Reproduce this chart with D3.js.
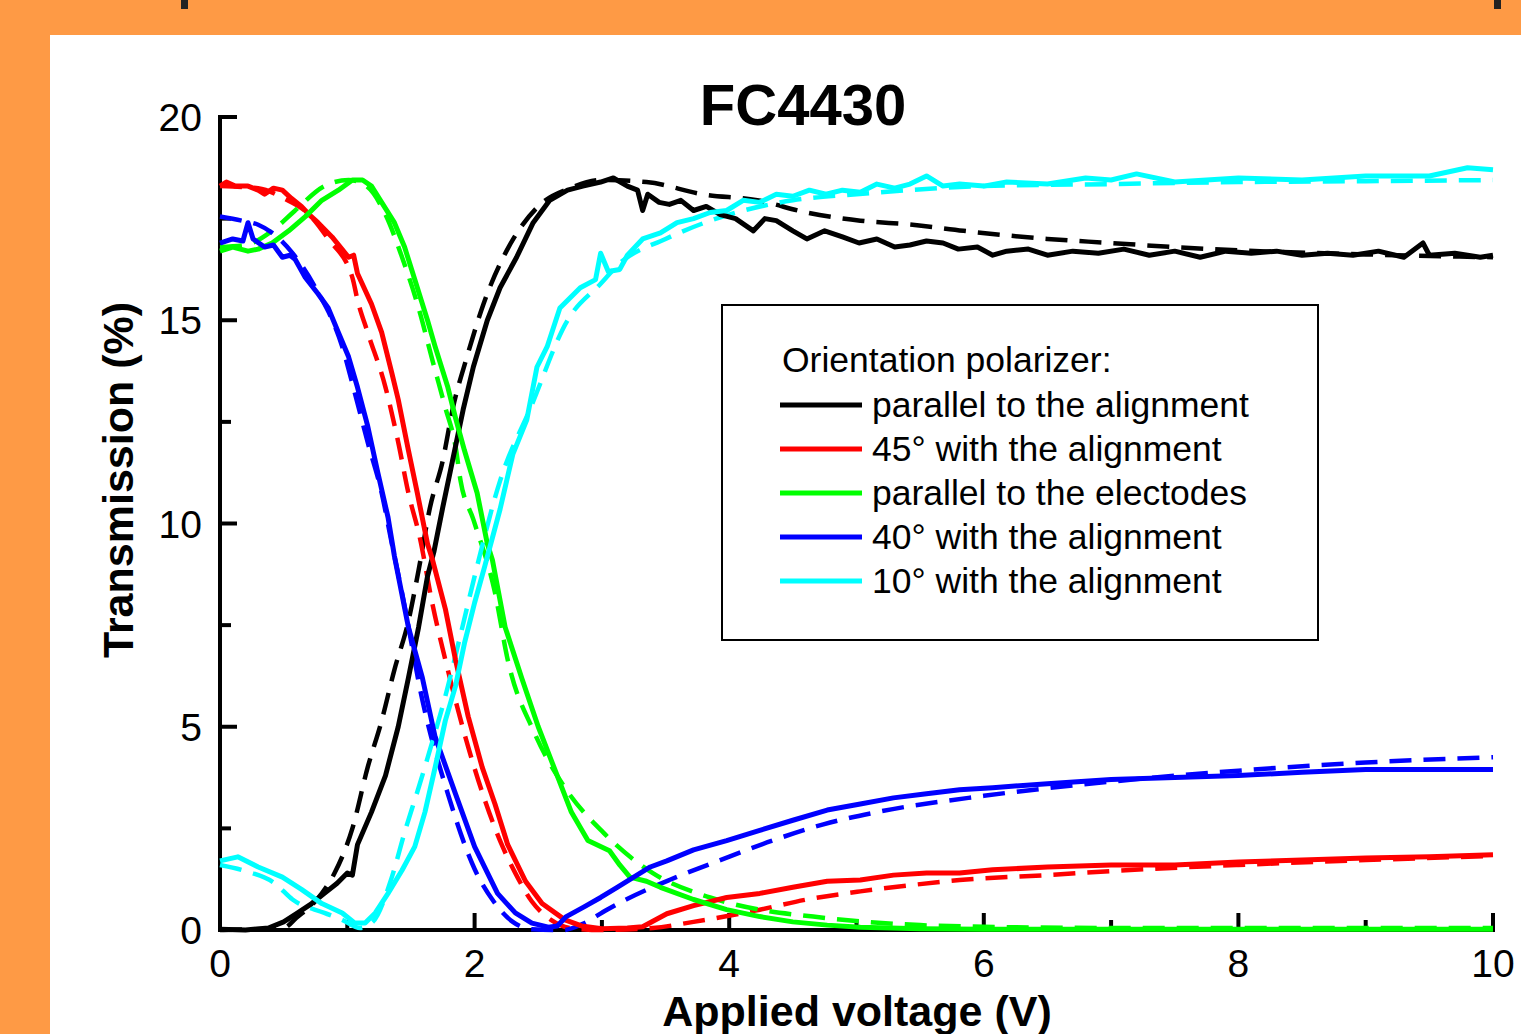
<!DOCTYPE html>
<html lang="en">
<head>
  <meta charset="UTF-8">
  <title>FC4430 transmission</title>
  <script src="https://d3js.org/d3.v7.min.js"></script>
  <style>
    body {
      margin: 0;
      background: #fe9a45;
      font-family: "Liberation Sans", Arial, sans-serif;
    }
    svg { display: block; }
    .axis-line { stroke: #000; stroke-width: 4; fill: none; stroke-linecap: square; }
    .tick-label { font-size: 39px; fill: #000; }
    .axis-title { font-size: 43px; font-weight: bold; fill: #000; }
  </style>
</head>
<body>
  <div id="chart"></div>

  <script>
    // measured curves, [voltage (V), transmission (%)]
    const blackMeas = [[0,0.02],[0.2,0],[0.38,0.05],[0.5,0.2],[0.61,0.42],[0.72,0.65],[0.82,0.9],[0.92,1.15],[1.0,1.4],[1.04,1.35],[1.08,2.1],[1.19,2.9],[1.3,3.8],[1.4,5.0],[1.48,6.2],[1.56,7.45],[1.63,8.7],[1.68,9.3],[1.75,10.4],[1.81,11.3],[1.91,12.8],[1.99,13.85],[2.1,15.0],[2.2,15.8],[2.33,16.55],[2.46,17.4],[2.59,17.95],[2.73,18.2],[2.85,18.3],[2.99,18.4],[3.09,18.5],[3.2,18.3],[3.28,18.2],[3.32,17.7],[3.36,18.1],[3.45,17.9],[3.53,17.85],[3.62,17.95],[3.72,17.7],[3.82,17.8],[3.93,17.6],[4.05,17.5],[4.19,17.2],[4.28,17.5],[4.37,17.45],[4.5,17.2],[4.61,17.0],[4.75,17.2],[4.89,17.05],[5.02,16.9],[5.16,17.0],[5.3,16.8],[5.42,16.85],[5.55,16.95],[5.68,16.9],[5.8,16.75],[5.95,16.8],[6.07,16.6],[6.18,16.7],[6.35,16.75],[6.5,16.6],[6.7,16.7],[6.9,16.65],[7.1,16.75],[7.3,16.6],[7.5,16.7],[7.7,16.55],[7.9,16.7],[8.1,16.65],[8.3,16.7],[8.5,16.6],[8.7,16.65],[8.9,16.6],[9.1,16.7],[9.3,16.55],[9.45,16.9],[9.5,16.6],[9.7,16.65],[9.9,16.55],[10,16.6]];
    const redMeas = [[0,18.3],[0.05,18.4],[0.12,18.3],[0.22,18.3],[0.3,18.2],[0.35,18.1],[0.42,18.25],[0.49,18.2],[0.56,18.0],[0.64,17.8],[0.7,17.6],[0.77,17.4],[0.88,17.05],[1.01,16.55],[1.05,16.6],[1.08,16.15],[1.19,15.4],[1.27,14.7],[1.35,13.7],[1.4,13.05],[1.48,11.8],[1.55,10.75],[1.63,9.5],[1.67,9.1],[1.77,7.9],[1.85,6.65],[1.95,5.25],[2.06,4.0],[2.16,3.1],[2.26,2.1],[2.4,1.2],[2.53,0.65],[2.71,0.25],[2.84,0.1],[3.0,0.03],[3.2,0.05],[3.32,0.08],[3.51,0.4],[3.72,0.6],[3.98,0.8],[4.24,0.9],[4.5,1.05],[4.77,1.2],[5.03,1.23],[5.29,1.35],[5.55,1.4],[5.81,1.4],[6.07,1.48],[6.5,1.55],[7,1.6],[7.5,1.6],[8,1.67],[8.5,1.72],[9,1.77],[9.5,1.8],[10,1.85]];
    const greenMeas = [[0,16.7],[0.1,16.8],[0.22,16.7],[0.3,16.75],[0.41,16.9],[0.54,17.2],[0.67,17.55],[0.8,17.95],[0.93,18.2],[1.04,18.45],[1.12,18.45],[1.19,18.3],[1.27,17.9],[1.37,17.4],[1.45,16.8],[1.53,16.0],[1.63,15.0],[1.69,14.35],[1.79,13.35],[1.85,12.6],[1.92,11.8],[2.02,10.75],[2.1,9.5],[2.14,9.1],[2.24,7.45],[2.37,6.2],[2.5,5.0],[2.63,3.95],[2.76,2.9],[2.89,2.2],[3.06,1.95],[3.14,1.6],[3.22,1.3],[3.35,1.2],[3.46,1.05],[3.72,0.75],[3.98,0.5],[4.24,0.33],[4.5,0.2],[4.77,0.12],[5.03,0.07],[5.5,0.03],[6,0.02],[7,0.02],[8,0.02],[10,0.02]];
    const blueMeas = [[0,16.9],[0.1,17.0],[0.18,16.95],[0.22,17.4],[0.26,17.0],[0.35,16.8],[0.42,16.85],[0.49,16.55],[0.55,16.6],[0.59,16.5],[0.67,16.05],[0.77,15.65],[0.85,15.3],[0.93,14.7],[1.01,14.1],[1.08,13.35],[1.16,12.4],[1.24,11.25],[1.32,10.15],[1.37,9.2],[1.48,7.45],[1.59,6.2],[1.69,4.75],[1.85,3.35],[2.0,2.05],[2.18,0.9],[2.32,0.42],[2.45,0.17],[2.58,0.07],[2.65,0.1],[2.72,0.33],[2.86,0.57],[2.99,0.8],[3.12,1.05],[3.25,1.3],[3.38,1.55],[3.51,1.7],[3.72,1.97],[3.98,2.2],[4.24,2.45],[4.5,2.7],[4.77,2.95],[5.03,3.1],[5.29,3.25],[5.55,3.35],[5.81,3.45],[6.07,3.5],[6.5,3.6],[7,3.7],[7.5,3.75],[8,3.8],[8.5,3.88],[9,3.95],[9.5,3.95],[10,3.95]];
    const cyanMeas = [[0,1.7],[0.14,1.8],[0.3,1.55],[0.49,1.3],[0.64,1.0],[0.8,0.65],[0.96,0.42],[1.06,0.17],[1.14,0.17],[1.22,0.42],[1.32,0.9],[1.43,1.47],[1.53,2.05],[1.61,2.9],[1.69,4.0],[1.77,5.15],[1.85,6.0],[1.92,7.05],[2.0,8.05],[2.08,8.95],[2.2,10.35],[2.3,11.7],[2.41,12.55],[2.49,13.85],[2.57,14.35],[2.67,15.3],[2.83,15.8],[2.95,16.0],[2.99,16.65],[3.05,16.2],[3.14,16.25],[3.2,16.6],[3.32,17.0],[3.46,17.15],[3.59,17.4],[3.72,17.5],[3.85,17.65],[3.98,17.7],[4.11,17.95],[4.24,17.9],[4.37,18.1],[4.5,18.05],[4.63,18.2],[4.76,18.1],[4.89,18.2],[5.03,18.15],[5.16,18.35],[5.3,18.25],[5.42,18.35],[5.55,18.55],[5.68,18.3],[5.81,18.35],[6.0,18.3],[6.18,18.4],[6.5,18.35],[6.8,18.5],[7.0,18.45],[7.2,18.6],[7.5,18.4],[8.0,18.5],[8.5,18.45],[9.0,18.55],[9.5,18.55],[9.8,18.75],[10,18.7]];

    // fitted curves (dashed)
    const blackFit = [[0,0],[0.5,0.05],[0.6,0.3],[0.8,0.9],[0.9,1.4],[1.04,2.5],[1.16,4.0],[1.27,5.15],[1.37,6.4],[1.48,7.6],[1.56,8.85],[1.65,10.4],[1.75,11.55],[1.83,12.85],[1.94,14.1],[2.07,15.4],[2.25,16.7],[2.5,17.8],[2.75,18.25],[3.0,18.45],[3.35,18.4],[3.79,18.1],[4.22,17.95],[4.61,17.65],[5.03,17.45],[5.44,17.35],[5.84,17.2],[6.5,17.0],[7,16.9],[7.5,16.8],[8,16.72],[9,16.62],[10,16.55]];
    const redFit = [[0,18.3],[0.3,18.25],[0.5,18.0],[0.7,17.6],[0.85,17.0],[1.04,16.05],[1.08,15.5],[1.16,14.7],[1.3,13.35],[1.4,12.0],[1.48,10.75],[1.57,9.65],[1.67,8.0],[1.77,6.65],[1.95,4.5],[2.08,3.2],[2.22,2.05],[2.32,1.4],[2.45,0.7],[2.6,0.25],[2.75,0.05],[3.0,0],[3.4,0.05],[3.72,0.2],[4.24,0.5],[4.61,0.75],[5.03,0.95],[5.42,1.1],[5.81,1.23],[6.5,1.35],[7,1.45],[8,1.6],[9,1.72],[10,1.82]];
    const greenFit = [[0,16.8],[0.2,16.85],[0.41,17.2],[0.59,17.7],[0.82,18.3],[1.01,18.45],[1.15,18.3],[1.3,17.6],[1.43,16.55],[1.56,15.3],[1.67,14.0],[1.77,12.85],[1.85,11.9],[1.89,11.05],[1.99,10.1],[2.16,8.3],[2.26,6.65],[2.47,4.85],[2.71,3.5],[3.01,2.4],[3.4,1.4],[3.85,0.8],[4.24,0.5],[4.66,0.33],[5.08,0.2],[5.5,0.12],[6,0.08],[7,0.05],[8,0.05],[10,0.05]];
    const blueFit = [[0,17.55],[0.17,17.45],[0.3,17.35],[0.41,17.15],[0.57,16.65],[0.75,15.8],[0.96,14.35],[1.06,13.2],[1.16,12.0],[1.27,10.75],[1.35,9.5],[1.43,8.3],[1.59,5.65],[1.79,3.35],[2.0,1.5],[2.15,0.7],[2.3,0.2],[2.45,0.02],[2.7,0],[2.85,0.15],[3.04,0.5],[3.19,0.75],[3.53,1.23],[3.93,1.72],[4.34,2.2],[4.74,2.6],[5.16,2.9],[6,3.3],[7,3.65],[8,3.92],[9,4.12],[10,4.25]];
    const cyanFit = [[0,1.6],[0.2,1.45],[0.43,1.15],[0.57,0.75],[0.82,0.42],[0.96,0.25],[1.1,0.05],[1.2,0.2],[1.35,1.3],[1.45,2.4],[1.56,3.5],[1.67,4.65],[1.77,5.75],[1.9,7.4],[2.0,8.7],[2.2,11.05],[2.44,12.85],[2.73,15.0],[2.99,15.9],[3.14,16.4],[3.5,17.0],[4.0,17.6],[4.5,17.95],[5.0,18.1],[6.0,18.3],[7,18.35],[8,18.4],[9,18.42],[10,18.45]];

    const seriesNames = [
      "parallel to the alignment",
      "45° with the alignment",
      "parallel to the electodes",
      "40° with the alignment",
      "10° with the alignment"
    ];
    const seriesColors = ["#000000", "#ff0000", "#00ff00", "#0000ff", "#00ffff"];
    const measured = [blackMeas, redMeas, greenMeas, blueMeas, cyanMeas];
    const fitted = [blackFit, redFit, greenFit, blueFit, cyanFit];

    const xTicks = [0, 2, 4, 6, 8, 10];
    const xMinor = [1, 3, 5, 7, 9];
    const yTicks = [0, 5, 10, 15, 20];
    const yMinor = [2.5, 7.5, 12.5, 17.5];

    const W = 1521, H = 1034;

    const svg = d3.select("#chart")
      .append("svg")
      .attr("width", W)
      .attr("height", H);

    // orange frame + white panel
    svg.append("rect").attr("width", W).attr("height", H).attr("fill", "#fe9a45");
    svg.append("rect").attr("x", 50).attr("y", 35).attr("width", W - 50).attr("height", H - 35).attr("fill", "#fff");
    // bits of the cut-off heading above
    svg.append("rect").attr("x", 181).attr("y", 0).attr("width", 7).attr("height", 9).attr("fill", "#222");
    svg.append("rect").attr("x", 1494).attr("y", 0).attr("width", 7).attr("height", 9).attr("fill", "#222");

    // scales
    const x = d3.scaleLinear().domain([0, 10]).range([220, 1493]);
    const y = d3.scaleLinear().domain([0, 20]).range([930, 117]);

    // axes (ticks pointing inward)
    const xAxis = svg.append("g");
    xAxis.append("line").attr("class", "axis-line")
      .attr("x1", x(0)).attr("x2", x(10)).attr("y1", y(0)).attr("y2", y(0));
    xAxis.selectAll(".xmaj").data(xTicks.filter(d => d > 0)).enter().append("line")
      .attr("class", "axis-line")
      .attr("x1", d => x(d)).attr("x2", d => x(d))
      .attr("y1", y(0)).attr("y2", y(0) - 15);
    xAxis.selectAll(".xmin").data(xMinor).enter().append("line")
      .attr("class", "axis-line")
      .attr("x1", d => x(d)).attr("x2", d => x(d))
      .attr("y1", y(0)).attr("y2", y(0) - 8);
    xAxis.selectAll("text").data(xTicks).enter().append("text")
      .attr("class", "tick-label")
      .attr("x", d => x(d)).attr("y", 977)
      .attr("text-anchor", "middle")
      .text(d => d);

    const yAxis = svg.append("g");
    yAxis.append("line").attr("class", "axis-line")
      .attr("x1", x(0)).attr("x2", x(0)).attr("y1", y(0)).attr("y2", y(20));
    yAxis.selectAll(".ymaj").data(yTicks.filter(d => d > 0)).enter().append("line")
      .attr("class", "axis-line")
      .attr("x1", x(0)).attr("x2", x(0) + 15)
      .attr("y1", d => y(d)).attr("y2", d => y(d));
    yAxis.selectAll(".ymin").data(yMinor).enter().append("line")
      .attr("class", "axis-line")
      .attr("x1", x(0)).attr("x2", x(0) + 9)
      .attr("y1", d => y(d)).attr("y2", d => y(d));
    yAxis.selectAll("text").data(yTicks).enter().append("text")
      .attr("class", "tick-label")
      .attr("x", 202).attr("y", d => y(d) + 14)
      .attr("text-anchor", "end")
      .text(d => d);

    // titles
    svg.append("text")
      .attr("x", 803).attr("y", 125)
      .attr("text-anchor", "middle")
      .style("font-size", "58px").style("font-weight", "bold")
      .text("FC4430");
    svg.append("text").attr("class", "axis-title")
      .attr("x", 857).attr("y", 1026)
      .attr("text-anchor", "middle")
      .text("Applied voltage (V)");
    svg.append("text").attr("class", "axis-title")
      .attr("transform", "translate(133,480) rotate(-90)")
      .attr("text-anchor", "middle")
      .text("Transmission (%)");

    // curves
    const solidLine = d3.line().x(d => x(d[0])).y(d => y(d[1]));
    const fitLine = d3.line().x(d => x(d[0])).y(d => y(d[1])).curve(d3.curveMonotoneX);

    svg.append("g").selectAll("path").data(fitted).enter().append("path")
      .attr("d", fitLine)
      .attr("fill", "none")
      .attr("stroke", (d, i) => seriesColors[i])
      .attr("stroke-width", 4.5)
      .attr("stroke-dasharray", "22,12");

    svg.append("g").selectAll("path").data(measured).enter().append("path")
      .attr("d", solidLine)
      .attr("fill", "none")
      .attr("stroke", (d, i) => seriesColors[i])
      .attr("stroke-width", 5)
      .attr("stroke-linejoin", "round");

    // legend
    const legend = svg.append("g");
    legend.append("rect")
      .attr("x", 722).attr("y", 305).attr("width", 596).attr("height", 335)
      .attr("fill", "#fff").attr("stroke", "#000").attr("stroke-width", 2);
    legend.append("text")
      .attr("x", 782).attr("y", 372)
      .style("font-size", "35.5px")
      .text("Orientation polarizer:");
    const rows = legend.selectAll(".row").data(seriesNames).enter().append("g")
      .attr("transform", (d, i) => `translate(0, ${405 + i * 44})`);
    rows.append("line")
      .attr("x1", 780).attr("x2", 862).attr("y1", 0).attr("y2", 0)
      .attr("stroke", (d, i) => seriesColors[i])
      .attr("stroke-width", 5);
    rows.append("text")
      .attr("x", 872).attr("y", 12)
      .style("font-size", "35.5px")
      .text(d => d);
  </script>
</body>
</html>
